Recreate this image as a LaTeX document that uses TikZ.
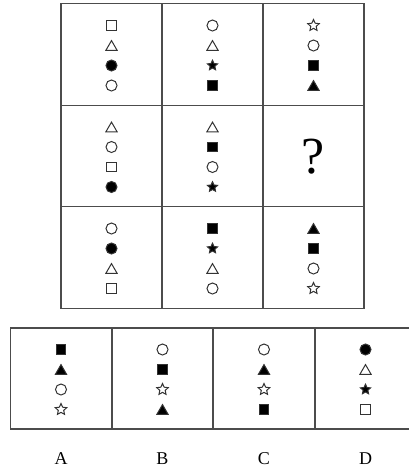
\documentclass[tikz,border=0pt]{standalone}
\usepackage{fontspec}
\setmainfont{Liberation Serif}
\usetikzlibrary{shapes.geometric}

\begin{document}
\begin{tikzpicture}[x=1pt, y=-1pt,
  every node/.style={inner sep=0pt, outer sep=0pt},
  cell/.style={draw=black!70, line width=1.4pt,
               minimum width=101pt, minimum height=101.5pt},
  glyph/.style={draw=black!80, line width=1pt},
  sym S/.style={glyph, rectangle, minimum size=9.5pt},
  sym s/.style={sym S, fill=black},
  sym C/.style={glyph, circle, minimum size=11pt},
  sym c/.style={sym C, fill=black},
  sym T/.style={glyph, regular polygon, regular polygon sides=3,
                minimum size=13pt, yshift=-1.6pt},
  sym t/.style={sym T, fill=black},
  sym R/.style={glyph, star, star points=5, star point ratio=2.1,
                minimum size=12pt},
  sym r/.style={sym R, fill=black, minimum size=10.5pt},
  letter/.style={font=\fontsize{18}{18}\selectfont}
]
\useasboundingbox (0,0) rectangle (409,472);
\clip (0,0) rectangle (409,472);

% 3x3 grid
\foreach \r/\y in {1/54.5,2/156,3/257.5}
  \foreach \c/\x in {1/111.5,2/212.5,3/313.5}
    \node[cell] (g\r\c) at (\x,\y) {};

\node[font=\fontsize{52}{52}\selectfont] (qmark) at ([yshift=-1pt]g23) {?};

% answer strip
\foreach \l/\x in {A/61,B/162.5,C/264,D/365.5} {
  \node[cell, minimum height=101pt] (o\l) at (\x,378.5) {};
  \node[letter] (lab\l) at (\x,459) {\l};
}

% symbols, top to bottom
\foreach \n/\syms in {g11/{S,T,c,C}, g12/{C,T,r,s}, g13/{R,C,s,t},
                      g21/{T,C,S,c}, g22/{T,s,C,r},
                      g31/{C,c,T,S}, g32/{s,r,T,C}, g33/{t,s,C,R},
                      oA/{s,t,C,R}, oB/{C,s,R,t}, oC/{C,t,R,s}, oD/{c,T,r,S}}
  \foreach \s [count=\k] in \syms
    \node[sym \s] (\n-\k) at ([yshift={49pt-20pt*\k}]\n) {};
\end{tikzpicture}
\end{document}
